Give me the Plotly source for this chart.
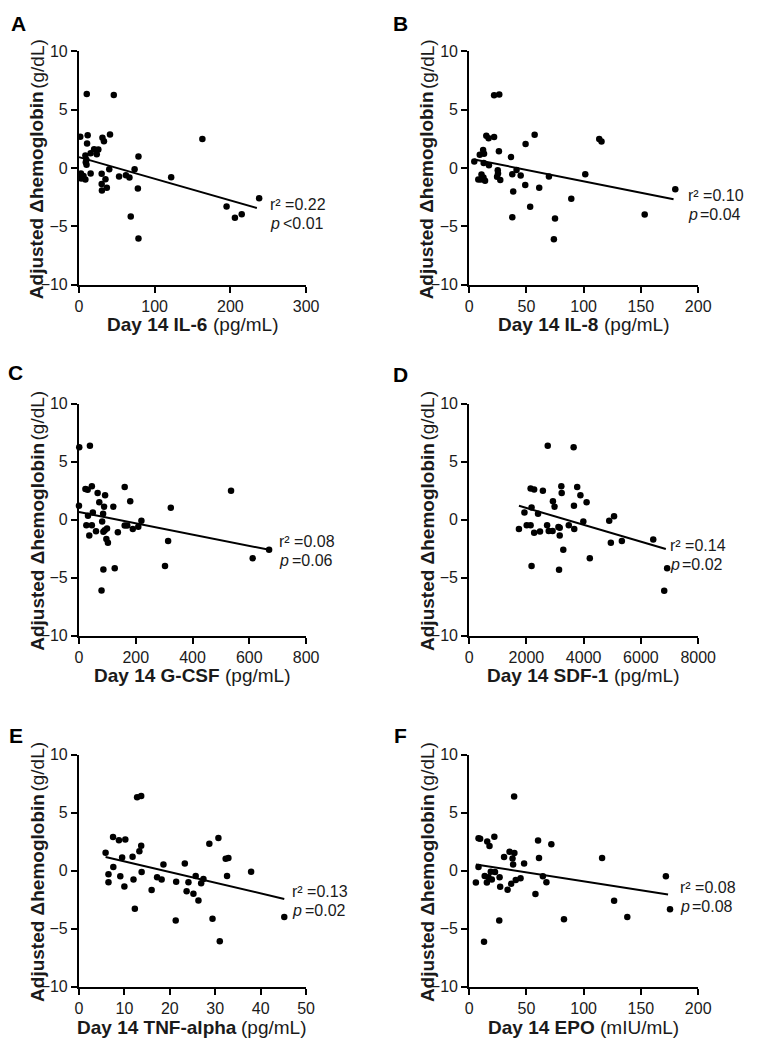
import plotly.graph_objects as go

# ---------------- data ----------------
il6_x = [1.7, 10.3, 46, 11.5, 10.7, 41, 31, 33, 163, 20, 25.6, 15.4, 23.5, 8.5, 9.8, 9, 10, 78.6, 40, 73.5,
         2.6, 6, 3, 8.5, 15.4, 30, 53, 62, 66.7, 35, 30, 36.8, 30.3, 77.8, 121.8, 68.4, 78.6, 195, 206, 215, 238]
il6_y = [2.68, 6.34, 6.25, 2.8, 2.1, 2.87, 2.6, 2.3, 2.48, 1.6, 1.58, 1.27, 1.18, 1.07, 0.7, 0.48, 0.28, 0.99, -0.1, -0.1,
         -0.48, -0.7, -0.9, -1.0, -0.48, -0.5, -0.73, -0.62, -0.82, -0.96, -1.38, -1.69, -1.94, -1.77, -0.79, -4.17, -6.06,
         -3.3, -4.28, -3.97, -2.6]
il6_fit_x = [0, 235]
il6_fit_y = [0.93, -3.44]

il8_x = [4.5, 9.3, 12.2, 13, 10.2, 8, 10.8, 12.5, 13.9, 12.7, 15, 17, 21.8, 21.8, 26.3, 17.3, 26, 25, 25.2, 24.4,
         27.2, 36.5, 37.7, 41.4, 45, 38.5, 37.7, 49, 49.3, 57.2, 53.3, 61.2, 69.7, 75, 74, 89.2, 101.4, 113.6, 115.6,
         153.3, 180]
il8_y = [0.56, 1.13, 1.55, 1.21, -1.0, -1.0, -0.56, -0.82, -1.1, 0.42, 2.76, 2.54, 2.65, 6.23, 6.31, 0.23, 1.44, -0.2,
         -0.48, -0.76, -1.04, 0.93, -0.54, -0.17, -0.65, -2.03, -4.23, -1.46, 2.06, 2.85, -3.32, -1.69, -0.73, -4.34,
         -6.11, -2.65, -0.54, 2.48, 2.28, -4.0, -1.83]
il8_fit_x = [4.5, 178.5]
il8_fit_y = [0.73, -2.68]

gcsf_x = [1, 38.6, 0, 22.7, 30.6, 45.4, 65.8, 92, 71.5, 88.5, 121, 31.8, 48.8, 85, 81.7, 26, 45.4, 36.3, 60, 90.8,
          98.8, 86, 96.5, 102, 137, 86, 126, 79.5, 161, 180.5, 161, 170, 189.6, 209, 220, 314, 323.5, 303, 535.7, 612,
          669.7]
gcsf_y = [6.24, 6.36, 1.19, 2.63, 2.57, 2.88, 2.29, 2.09, 1.5, 1.1, 1.1, 0.34, 0.62, 0.5, -0.17, -0.48, -0.48, -1.38,
          -1.0, -0.93, -0.76, -1.05, -1.67, -2.0, -1.1, -4.3, -4.2, -6.1, 2.8, 1.58, -0.5, -0.5, -0.82, -0.62, -0.11,
          -1.84, 1.02, -4.0, 2.49, -3.33, -2.6]
gcsf_fit_x = [0, 670]
gcsf_fit_y = [0.65, -2.6]

sdf_x = [1740, 1932, 2011, 2147, 2147, 2271, 2181, 2181, 2271, 2407, 2475, 2576, 2723, 2746, 2780, 2915, 2927, 2983,
         3119, 3164, 3164, 3141, 3220, 3232, 3288, 3480, 3650, 3661, 3672, 3774, 3887, 3989, 4102, 4215, 4893, 5062,
         4950, 5334, 6430, 6916, 6814]
sdf_y = [-0.82, 0.6, -0.48, -0.48, 2.68, 2.6, 1.05, -4.0, -1.13, 0.5, -1.02, 2.49, -0.48, 6.36, -0.99, -0.99, 1.58, 1.1,
         -0.65, -0.7, -1.38, -4.32, 2.88, 2.29, -2.6, -0.48, 6.24, 1.19, -0.82, 2.8, 2.09, -0.17, 1.5, -3.33, -0.11, 0.28,
         -2.0, -1.84, -1.72, -4.2, -6.13]
sdf_fit_x = [1740, 6870]
sdf_fit_y = [1.19, -2.54]

tnf_x = [5.86, 6.5, 6.5, 7.56, 7.5, 8.8, 10.2, 9.5, 9.1, 10, 11.8, 12, 12.3, 12.8, 13.7, 13.3, 13.7, 13.8, 16, 17.2,
         18.2, 18.6, 21.4, 21.3, 23.3, 23.7, 24.1, 25.2, 25.7, 26.3, 26.9, 27.4, 28.7, 29.4, 30.7, 31, 32.3, 32.9, 32.6,
         37.9, 45.2]
tnf_y = [1.55, -0.31, -0.99, 0.31, 2.9, 2.63, 2.68, 1.13, -0.48, -1.36, 1.21, -0.76, -3.28, 6.33, 6.44, 1.67, 2.15,
         -0.11, -1.67, -0.56, -0.76, 0.54, -0.96, -4.29, 0.62, -1.78, -0.99, -1.98, -0.45, -2.57, -1.07, -0.71, 2.32,
         -4.15, 2.82, -6.07, 1.02, 1.1, -0.45, -0.08, -3.98]
tnf_fit_x = [5.86, 45.2]
tnf_fit_y = [1.19, -2.43]

epo_x = [5.9, 8.2, 9.6, 8.2, 13, 13.6, 15.8, 17.8, 15.5, 16.9, 18.9, 19.8, 22, 22.6, 26.6, 27.1, 26.3, 30.5, 33.6, 35.3,
         36.7, 37.9, 38.4, 39.5, 39.3, 40.7, 44.9, 48, 57.9, 60.2, 61, 64.4, 67.5, 71.8, 82.8, 116.1, 126.6, 138.1,
         171.8, 175.4]
epo_y = [-1.02, 2.8, 2.75, 0.31, -6.12, -0.45, 2.52, 2.12, -1.02, -0.57, -0.08, -0.76, 2.92, -0.11, -0.57, -1.39, -4.3,
         1.19, -1.64, 1.64, -1.13, 1.05, 0.54, 1.53, 6.4, -0.79, -0.65, 0.62, -2.01, 2.6, 1.1, -0.48, -0.99, 2.29, -4.19,
         1.1, -2.58, -3.99, -0.48, -3.31]
epo_fit_x = [5.9, 173.7]
epo_fit_y = [0.54, -2.04]

panel_letters = ["A", "B", "C", "D", "E", "F"]
x_title_bold = ["Day 14 IL-6", "Day 14 IL-8", "Day 14 G-CSF", "Day 14 SDF-1", "Day 14 TNF-alpha", "Day 14 EPO"]
x_title_unit = ["(pg/mL)", "(pg/mL)", "(pg/mL)", "(pg/mL)", "(pg/mL)", "(mIU/mL)"]
y_title_bold = "Adjusted \u0394hemoglobin"
y_title_unit = "(g/dL)"
x_ticks = [[0, 100, 200, 300], [0, 50, 100, 150, 200], [0, 200, 400, 600, 800],
           [0, 2000, 4000, 6000, 8000], [0, 10, 20, 30, 40, 50], [0, 50, 100, 150, 200]]
y_ticks = [-10, -5, 0, 5, 10]
r2_text = ["0.22", "0.10", "0.08", "0.14", "0.13", "0.08"]
p_text = ["<0.01", "=0.04", "=0.06", "=0.02", "=0.02", "=0.08"]
stat_pos_x = [250, 189, 698, 6930, 46.5, 182]
stat_pos_y = [-4.1, -3.3, -2.8, -3.2, -2.72, -2.37]

xs = [il6_x, il8_x, gcsf_x, sdf_x, tnf_x, epo_x]
ys = [il6_y, il8_y, gcsf_y, sdf_y, tnf_y, epo_y]
fxs = [il6_fit_x, il8_fit_x, gcsf_fit_x, sdf_fit_x, tnf_fit_x, epo_fit_x]
fys = [il6_fit_y, il8_fit_y, gcsf_fit_y, sdf_fit_y, tnf_fit_y, epo_fit_y]

# ---------------- text width estimate (Arial / Liberation Sans metrics, 1/1000 em) ----------------
_BOLD = {" ": 278, "-": 333, "(": 333, ")": 333, "/": 278, "A": 722, "C": 722, "D": 722, "E": 667, "F": 611,
         "G": 778, "I": 278, "L": 611, "N": 722, "O": 778, "P": 667, "S": 667, "T": 611, "a": 556, "b": 611,
         "d": 611, "e": 556, "g": 611, "h": 611, "i": 278, "j": 278, "l": 278, "m": 889, "n": 611, "o": 611,
         "p": 611, "s": 556, "t": 333, "u": 611, "y": 556, "\u0394": 668}
_REG = {" ": 278, "(": 333, ")": 333, "/": 278, "I": 278, "L": 556, "U": 722, "d": 556, "g": 556, "m": 833,
        "p": 556}

def text_w(s, size, bold):
    table = _BOLD if bold else _REG
    return sum(table.get(ch, 556) for ch in s) * size / 1000.0

# ---------------- layout geometry (screen pixels) ----------------
# The page body has an 8px margin, so the figure is 16px smaller than the window
# and every screen coordinate is shifted by 8px.
PAGE_W, PAGE_H = 763, 1050
MARGIN = 8
W, H = PAGE_W - 2 * MARGIN, PAGE_H - 2 * MARGIN
col_px = [(77, 311), (479, 715)]
row_px = [(44, 281), (402, 638), (759, 995)]
letter_px = [(15, 16), (408.5, 16), (12, 370), (408.5, 373), (12, 740), (408.5, 740)]

def px(x):
    return (x - MARGIN) / W

def py(y):
    return 1 - (y - MARGIN) / H

FONT = "Liberation Sans, Arial, Helvetica, sans-serif"
TXT = "#1a1a1a"
TFS = 19     # axis title size
SFS = 16     # statistics size

fig = go.Figure()
layout = dict(width=W, height=H, margin=dict(l=0, r=0, t=0, b=0),
              paper_bgcolor="white", plot_bgcolor="white", showlegend=False,
              font=dict(family=FONT, color=TXT, size=16))
annotations = []

def ann(**kw):
    base = dict(showarrow=False)
    base.update(kw)
    annotations.append(base)

for i in range(6):
    r, c = divmod(i, 2)
    k = "" if i == 0 else str(i + 1)
    x0, x1 = col_px[c]
    y0, y1 = row_px[r]
    layout["xaxis" + k] = dict(
        domain=[px(x0), px(x1)], range=[x_ticks[i][0], x_ticks[i][-1]], anchor="y" + k,
        tickvals=x_ticks[i], showline=True, linewidth=2, linecolor="black", mirror=False,
        ticks="outside", ticklen=6, tickwidth=2, tickcolor="black", showgrid=False, zeroline=False,
        tickfont=dict(size=16, family=FONT, color=TXT), fixedrange=True)
    layout["yaxis" + k] = dict(
        domain=[py(y1), py(y0)], range=[-10, 10], anchor="x" + k,
        tickvals=y_ticks, showline=True, linewidth=2, linecolor="black",
        ticks="outside", ticklen=6, tickwidth=2, tickcolor="black", showgrid=False, zeroline=False,
        tickfont=dict(size=16, family=FONT, color=TXT), fixedrange=True)

    fig.add_trace(go.Scatter(x=xs[i], y=ys[i], mode="markers", xaxis="x" + k, yaxis="y" + k,
                             marker=dict(size=6.5, color="black"), cliponaxis=False))
    fig.add_trace(go.Scatter(x=fxs[i], y=fys[i], mode="lines", xaxis="x" + k, yaxis="y" + k,
                             line=dict(color="black", width=2), cliponaxis=False))

    # statistics (plain text pieces, no inline markup)
    sfont = dict(size=SFS, family=FONT, color=TXT)
    ann(x=stat_pos_x[i], y=stat_pos_y[i], xref="x" + k, yref="y" + k, xanchor="left", yanchor="middle",
        yshift=11, text="r\u00b2 =" + r2_text[i], font=sfont)
    ann(x=stat_pos_x[i], y=stat_pos_y[i], xref="x" + k, yref="y" + k, xanchor="left", yanchor="middle",
        yshift=-8, text="p", font=dict(size=SFS, family=FONT, color=TXT, style="italic"))
    ann(x=stat_pos_x[i], y=stat_pos_y[i], xref="x" + k, yref="y" + k, xanchor="left", yanchor="middle",
        yshift=-8, xshift=SFS * 0.80, text=p_text[i], font=sfont)

    # x-axis title: bold name + regular unit, centred on the axis
    wb = text_w(x_title_bold[i], TFS, True)
    ws = text_w(" ", TFS, False)
    wu = text_w(x_title_unit[i], TFS, False)
    gap = ws + 3
    cx = (x0 + x1) / 2
    tot = wb + gap + wu
    ty = y1 + 41
    ann(x=px(cx - tot / 2 + wb / 2), y=py(ty), xref="paper", yref="paper", xanchor="center", yanchor="middle",
        text=x_title_bold[i], font=dict(size=TFS, family=FONT, color=TXT, weight="bold"))
    ann(x=px(cx + tot / 2 - wu / 2), y=py(ty), xref="paper", yref="paper", xanchor="center", yanchor="middle",
        text=x_title_unit[i], font=dict(size=TFS, family=FONT, color=TXT))

    # y-axis title (rotated): bold part at the bottom, unit at the top, centred on the axis
    wb = text_w(y_title_bold, TFS, True)
    wu = text_w(y_title_unit, TFS, False)
    cy = (y0 + y1) / 2
    tot = wb + ws + wu
    tx = x0 - 43
    ann(x=px(tx), y=py(cy + tot / 2 - wb / 2), xref="paper", yref="paper", xanchor="center", yanchor="middle",
        textangle=-90, text=y_title_bold, font=dict(size=TFS, family=FONT, color=TXT, weight="bold"))
    ann(x=px(tx), y=py(cy - tot / 2 + wu / 2), xref="paper", yref="paper", xanchor="center", yanchor="middle",
        textangle=-90, text=y_title_unit, font=dict(size=TFS, family=FONT, color=TXT))

    # panel letter
    lx, ly = letter_px[i]
    ann(x=px(lx), y=py(ly), xref="paper", yref="paper", xanchor="center", yanchor="middle",
        text=panel_letters[i], font=dict(size=21, family=FONT, color="black", weight="bold"))

layout["annotations"] = annotations
fig.update_layout(**layout)
fig.write_html("out.html")
